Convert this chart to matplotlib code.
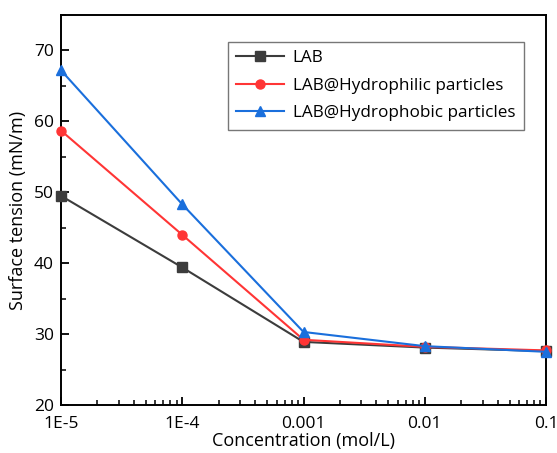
import matplotlib
matplotlib.use("Agg")
import matplotlib.pyplot as plt
from matplotlib.ticker import FixedLocator, LogLocator, MultipleLocator, NullFormatter

plt.rcParams["font.family"] = ["Open Sans", "DejaVu Sans"]

concentration = [1e-5, 1e-4, 1e-3, 1e-2, 1e-1]
tick_labels   = ["1E-5", "1E-4", "0.001", "0.01", "0.1"]

lab          = [49.5, 39.4, 28.9, 28.1, 27.6]
hydrophilic  = [58.7, 44.0, 29.2, 28.2, 27.7]
hydrophobic  = [67.2, 48.3, 30.3, 28.3, 27.5]

series = [
    ("LAB",                          lab,         "#3c3c3c", "s"),
    ("LAB@Hydrophilic particles",    hydrophilic, "#ff3535", "o"),
    ("LAB@Hydrophobic particles",    hydrophobic, "#1a6fdc", "^"),
]

fig = plt.figure(figsize=(5.57, 4.53), dpi=100)
ax = fig.add_axes([61 / 557, 48 / 453, 485 / 557, 390 / 453])

for name, vals, color, marker in series:
    ax.plot(concentration, vals, color=color, marker=marker, markersize=6.5,
            linewidth=1.5, label=name, clip_on=False, zorder=3)

ax.set_xscale("log")
ax.set_xlim(1e-5, 1e-1)
ax.set_ylim(20, 75)
ax.xaxis.set_major_locator(FixedLocator(concentration))
ax.set_xticklabels(tick_labels)
ax.xaxis.set_minor_locator(LogLocator(base=10, subs=range(2, 10)))
ax.xaxis.set_minor_formatter(NullFormatter())
ax.yaxis.set_major_locator(MultipleLocator(10))
ax.yaxis.set_minor_locator(MultipleLocator(5))

ax.tick_params(which="major", direction="in", length=6, width=1.3, labelsize=12.5, pad=5)
ax.tick_params(axis="x", which="major", pad=8)
ax.tick_params(which="minor", direction="in", length=3.5, width=1.1)
ax.tick_params(axis="x", which="both", top=False)
ax.tick_params(axis="y", which="both", right=False)
for sp in ax.spines.values():
    sp.set_linewidth(1.4)

ax.set_xlabel("Concentration (mol/L)", fontsize=13, labelpad=0)
ax.set_ylabel("Surface tension (mN/m)", fontsize=13, labelpad=5)

leg = ax.legend(loc="upper left", bbox_to_anchor=(0.344, 0.932), fontsize=12.3,
                frameon=True, fancybox=False, edgecolor="#555555",
                handlelength=2.8, handletextpad=0.5, borderpad=0.5,
                labelspacing=0.68, borderaxespad=0)
leg.get_frame().set_linewidth(1.0)

fig.savefig("out.png", dpi=100)
